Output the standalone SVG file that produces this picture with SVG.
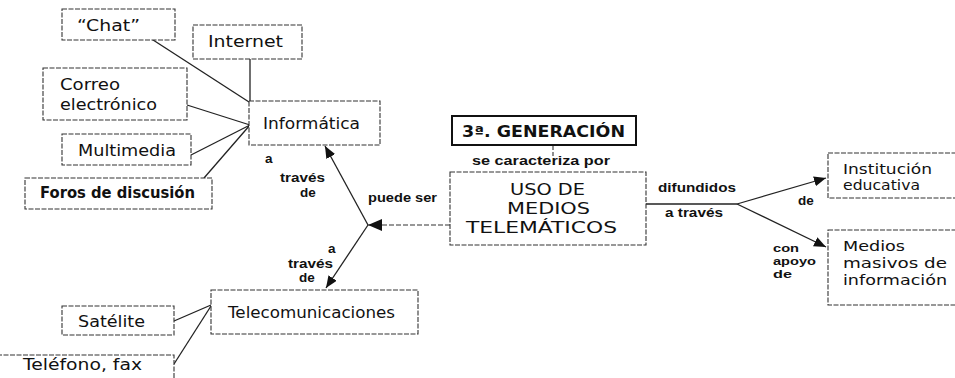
<svg xmlns="http://www.w3.org/2000/svg" width="955" height="378" viewBox="0 0 955 378">
<defs>
<style>
.bx{fill:#fff;stroke:#333;stroke-width:1.1;stroke-dasharray:5 1.5}
.t{font-family:"DejaVu Sans",Verdana,sans-serif;font-size:16px;fill:#111}
.s{font-family:"DejaVu Sans",Verdana,sans-serif;font-size:14px;fill:#111}
.tb{font-family:"DejaVu Sans",Verdana,sans-serif;font-size:15px;font-weight:bold;fill:#111}
.l{font-family:"Liberation Sans",Arial,sans-serif;font-size:13.5px;font-weight:bold;fill:#111}
.ls{font-family:"Liberation Sans",Arial,sans-serif;font-size:11.5px;font-weight:bold;fill:#111}
.c{stroke:#222;stroke-width:1.3;fill:none}
.d{stroke:#333;stroke-width:1.1;fill:none;stroke-dasharray:5 2}
</style>
<marker id="ah" viewBox="0 0 12 10" refX="12" refY="5" markerWidth="12" markerHeight="10" markerUnits="userSpaceOnUse" orient="auto">
<path d="M0,0 L12,5 L0,10 z" fill="#111"/>
</marker>
<marker id="ahb" viewBox="0 0 14 12" refX="14" refY="6" markerWidth="14" markerHeight="12" markerUnits="userSpaceOnUse" orient="auto">
<path d="M0,0 L14,6 L0,12 z" fill="#111"/>
</marker>
</defs>
<rect width="955" height="378" fill="#fff"/>

<g id="connectors">
<line class="c" x1="150" y1="38" x2="249" y2="102"/>
<line class="c" x1="250" y1="59" x2="250" y2="101"/>
<line class="c" x1="187" y1="105" x2="250" y2="125"/>
<line class="c" x1="191" y1="155" x2="250" y2="125"/>
<line class="c" x1="204" y1="178" x2="250" y2="125"/>
<line class="c" x1="174" y1="321" x2="211" y2="305"/>
<line class="c" x1="174" y1="364" x2="211" y2="306"/>
<line class="c" x1="368" y1="225" x2="325" y2="146" marker-end="url(#ah)"/>
<line class="c" x1="368" y1="225" x2="326" y2="288" marker-end="url(#ah)"/>
<line class="d" x1="450" y1="225" x2="368" y2="225" marker-end="url(#ahb)"/>
<line class="d" x1="553" y1="145" x2="553" y2="156"/>
<line class="c" x1="646" y1="204" x2="737" y2="204"/>
<line class="c" x1="737" y1="204" x2="826" y2="178" marker-end="url(#ah)"/>
<line class="c" x1="737" y1="204" x2="826" y2="247" marker-end="url(#ah)"/>
<text class="l" x="265" y="163">a</text>
<text class="l" x="280" y="182" textLength="45" lengthAdjust="spacingAndGlyphs">través</text>
<text class="l" x="300" y="197">de</text>
<text class="l" x="328" y="253">a</text>
<text class="l" x="288" y="268" textLength="45" lengthAdjust="spacingAndGlyphs">través</text>
<text class="l" x="299" y="282">de</text>
<text class="l" x="368" y="202" textLength="69" lengthAdjust="spacingAndGlyphs">puede ser</text>
<text class="l" x="472" y="165" textLength="138" lengthAdjust="spacingAndGlyphs">se caracteriza por</text>
<text class="l" x="658" y="192" textLength="78" lengthAdjust="spacingAndGlyphs">difundidos</text>
<text class="l" x="665" y="217" textLength="58" lengthAdjust="spacingAndGlyphs">a través</text>
<text class="l" x="798" y="205">de</text>
<text class="ls" x="773" y="252" textLength="26" lengthAdjust="spacingAndGlyphs">con</text>
<text class="ls" x="773" y="265" textLength="43" lengthAdjust="spacingAndGlyphs">apoyo</text>
<text class="ls" x="773" y="278" textLength="19" lengthAdjust="spacingAndGlyphs">de</text>
</g>

<g id="chat"><rect class="bx" x="62" y="9" width="113" height="31"/><text class="t" x="77" y="31" textLength="63" lengthAdjust="spacingAndGlyphs">“Chat”</text></g>
<g id="internet"><rect class="bx" x="193" y="25" width="109" height="34"/><text class="t" x="208" y="47" textLength="75" lengthAdjust="spacingAndGlyphs">Internet</text></g>
<g id="correo"><rect class="bx" x="43" y="68" width="144" height="52"/><text class="t" x="60" y="90" textLength="60" lengthAdjust="spacingAndGlyphs">Correo</text><text class="t" x="60" y="110" textLength="97" lengthAdjust="spacingAndGlyphs">electrónico</text></g>
<g id="multimedia"><rect class="bx" x="62" y="134" width="129" height="31"/><text class="t" x="78" y="156" textLength="98" lengthAdjust="spacingAndGlyphs">Multimedia</text></g>
<g id="foros"><rect class="bx" x="25" y="178" width="187" height="31"/><text class="tb" x="40" y="198" textLength="155" lengthAdjust="spacingAndGlyphs">Foros de discusión</text></g>
<g id="informatica"><rect class="bx" x="249" y="101" width="131" height="44"/><text class="t" x="263" y="129" textLength="97" lengthAdjust="spacingAndGlyphs">Informática</text></g>
<g id="telecom"><rect class="bx" x="211" y="290" width="207" height="44"/><text class="t" x="228" y="318" textLength="167" lengthAdjust="spacingAndGlyphs">Telecomunicaciones</text></g>
<g id="satelite"><rect class="bx" x="62" y="306" width="112" height="29"/><text class="t" x="78" y="327" textLength="67" lengthAdjust="spacingAndGlyphs">Satélite</text></g>
<g id="telefono"><rect class="bx" x="-3" y="355" width="177" height="40"/><text class="t" x="23" y="370" textLength="119" lengthAdjust="spacingAndGlyphs">Teléfono, fax</text></g>
<g id="generacion"><rect x="452" y="116" width="184" height="29" fill="#fff" stroke="#111" stroke-width="2"/><text class="tb" x="462" y="137" font-size="16" textLength="163" lengthAdjust="spacingAndGlyphs">3ª. GENERACIÓN</text></g>
<g id="uso"><rect class="bx" x="450" y="172" width="196" height="73"/>
<text class="t" x="510" y="195" textLength="75" lengthAdjust="spacingAndGlyphs">USO DE</text>
<text class="t" x="507" y="214" textLength="83" lengthAdjust="spacingAndGlyphs">MEDIOS</text>
<text class="t" x="466" y="233" textLength="151" lengthAdjust="spacingAndGlyphs">TELEMÁTICOS</text></g>
<g id="institucion"><rect class="bx" x="828" y="153" width="140" height="45"/><text class="s" x="843" y="174" textLength="89" lengthAdjust="spacingAndGlyphs">Institución</text><text class="s" x="843" y="190" textLength="77" lengthAdjust="spacingAndGlyphs">educativa</text></g>
<g id="medios"><rect class="bx" x="828" y="230" width="140" height="75"/><text class="s" x="843" y="251" textLength="62" lengthAdjust="spacingAndGlyphs">Medios</text><text class="s" x="843" y="268" textLength="104" lengthAdjust="spacingAndGlyphs">masivos de</text><text class="s" x="843" y="285" textLength="104" lengthAdjust="spacingAndGlyphs">información</text></g>
</svg>
